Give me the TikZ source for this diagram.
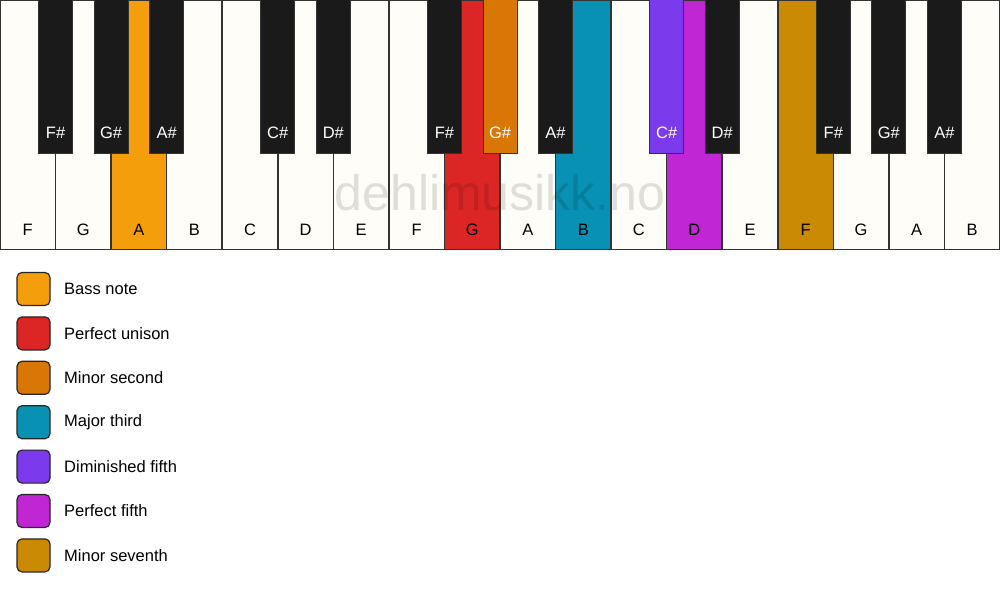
\documentclass[tikz,border=0pt]{standalone}
\usepackage{fontspec}
\setmainfont{Liberation Sans}
\definecolor{keyline}{HTML}{333333}
\definecolor{ivory}{HTML}{FFFDF8}
\definecolor{ebony}{HTML}{1A1A1A}
\definecolor{cbass}{HTML}{F59E0B}
\definecolor{cuni}{HTML}{DC2626}
\definecolor{cmin2}{HTML}{D97706}
\definecolor{cmaj3}{HTML}{0891B2}
\definecolor{cdim5}{HTML}{7C3AED}
\definecolor{cper5}{HTML}{C026D3}
\definecolor{cmin7}{HTML}{CA8A04}
\tikzset{
  whitekey/.style={draw=keyline, line width=1.5pt, fill=ivory},
  blackkey/.style={draw=keyline, line width=1pt, fill=ebony},
  wlabel/.style={font=\fontsize{16.5}{19}\selectfont, text=black, inner sep=0pt},
  blabel/.style={font=\fontsize{16.5}{19}\selectfont, text=white, inner sep=0pt},
  legbox/.style={draw=black!85, line width=1.2pt, rounded corners=5pt, minimum width=33pt, minimum height=33pt, inner sep=0pt},
  legtext/.style={font=\fontsize{16.5}{19}\selectfont, anchor=west, inner sep=0pt},
}
\begin{document}
\begin{tikzpicture}[x=1pt,y=-1pt]
\useasboundingbox (0,0) rectangle (1000,594);
\fill[white] (0,0) rectangle (1000,594);
% white keys
\foreach \i/\n/\c in {0/F/ivory,1/G/ivory,2/A/cbass,3/B/ivory,4/C/ivory,5/D/ivory,6/E/ivory,7/F/ivory,8/G/cuni,9/A/ivory,10/B/cmaj3,11/C/ivory,12/D/cper5,13/E/ivory,14/F/cmin7,15/G/ivory,16/A/ivory,17/B/ivory}{
  \pgfmathsetmacro{\xl}{\i*55.5556}
  \pgfmathsetmacro{\xr}{(\i+1)*55.5556}
  \pgfmathsetmacro{\xm}{(\i+0.5)*55.5556}
  \draw[whitekey, fill=\c] (\xl,0) rectangle (\xr,249.5);
  \node[wlabel] (w\i) at (\xm,230) {\n};
}
% watermark
\node[font=\fontsize{50}{56}\selectfont, text=black, text opacity=0.12, inner sep=0pt] (wm) at (500,193) {dehlimusikk.no};
% black keys
\foreach \b/\n/\c in {1/F\#/ebony,2/G\#/ebony,3/A\#/ebony,5/C\#/ebony,6/D\#/ebony,8/F\#/ebony,9/G\#/cmin2,10/A\#/ebony,12/C\#/cdim5,13/D\#/ebony,15/F\#/ebony,16/G\#/ebony,17/A\#/ebony}{
  \pgfmathsetmacro{\xb}{\b*55.5556}
  \draw[blackkey, fill=\c] (\xb-17,0) rectangle (\xb+17,153);
  \node[blabel] (b\b) at (\xb,133) {\n};
}
% legend
\foreach \k/\c/\t in {0/cbass/Bass note,1/cuni/Perfect unison,2/cmin2/Minor second,3/cmaj3/Major third,4/cdim5/Diminished fifth,5/cper5/Perfect fifth,6/cmin7/Minor seventh}{
  \pgfmathsetmacro{\yy}{289+\k*44.4}
  \node[legbox, fill=\c] (lb\k) at (33.5,\yy) {};
  \node[legtext] (lt\k) at (64,\yy) {\t};
}
\end{tikzpicture}
\end{document}
